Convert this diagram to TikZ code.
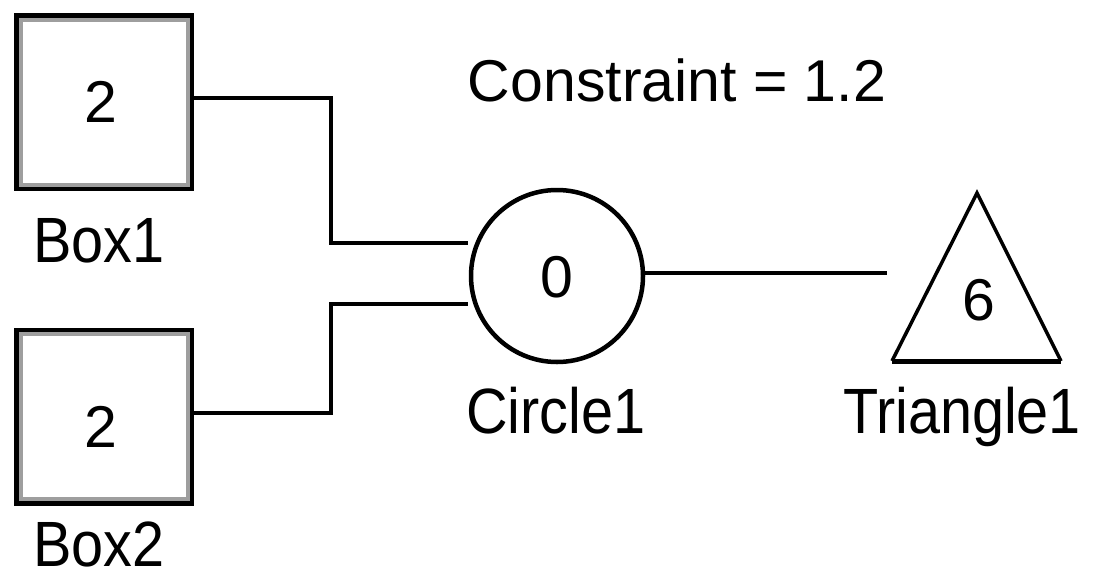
\documentclass[tikz,border=0pt]{standalone}
\usepackage{fontspec}
\setmainfont{Liberation Sans}
\begin{document}
\begin{tikzpicture}[x=1pt,y=-1pt,
  boxnode/.style={draw=black, line width=4.5pt, outer sep=0pt, inner sep=0pt,
    minimum width=175.5pt, minimum height=173.5pt, fill=white},
  bandline/.style={draw=black!38, line width=4pt},
  wire/.style={line width=4pt, line cap=butt},
  num/.style={font=\fontsize{59}{59}\selectfont, anchor=base, inner sep=0pt},
  lbl/.style={font=\fontsize{64}{64}\selectfont, anchor=base, inner sep=0pt},
  ring/.style={draw=black, circle, line width=4.5pt, minimum size=172pt, inner sep=0pt, outer sep=0pt}]
\useasboundingbox (0,0) rectangle (1094,581);
% boxes
\node[boxnode] (box1) at (104,102) {};
\draw[bandline] ([shift={(4.25,4.25)}]box1.north west) rectangle ([shift={(-4.25,-4.25)}]box1.south east);
\node[num] (v1) at (101,122) {2};
\node[lbl] (l1) at (99,262) {\scalebox{0.9}[1]{Box1}};
\node[boxnode] (box2) at (104,416.5) {};
\draw[bandline] ([shift={(4.25,4.25)}]box2.north west) rectangle ([shift={(-4.25,-4.25)}]box2.south east);
\node[num] (v2) at (101,447) {2};
\node[lbl] (l2) at (99,566) {\scalebox{0.9}[1]{Box2}};
% circle
\node[ring] (circ) at (557,276) {};
\node[num] (v3) at (557,297) {0};
\node[lbl] (l3) at (556,433) {\scalebox{0.9}[1]{Circle1}};
% triangle
\coordinate (ta) at (977,193);
\coordinate (tl) at (892,361);
\coordinate (tr) at (1061,361);
\draw[line width=3.5pt, line join=miter] (tl) -- (ta) -- (tr);
\draw[line width=5pt] (tl) -- (tr);
\node[num] (tri) at (979,320) {6};
\node[lbl] (l4) at (962,433) {\scalebox{0.9}[1]{Triangle1}};
% constraint
\node[font=\fontsize{59}{59}\selectfont, anchor=base, inner sep=0pt] (cons) at (677,101) {Constraint = 1.2};
% connectors
\coordinate (j1) at (331,98);
\coordinate (c1) at (468,243);
\draw[wire] (box1.east |- j1) -- (j1) |- (c1);
\coordinate (j2) at (331,413);
\coordinate (c2) at (468,304);
\draw[wire] (box2.east |- j2) -- (j2) |- (c2);
\coordinate (tin) at (887,273);
\draw[wire] (circ.east |- tin) -- (tin);
\end{tikzpicture}
\end{document}
